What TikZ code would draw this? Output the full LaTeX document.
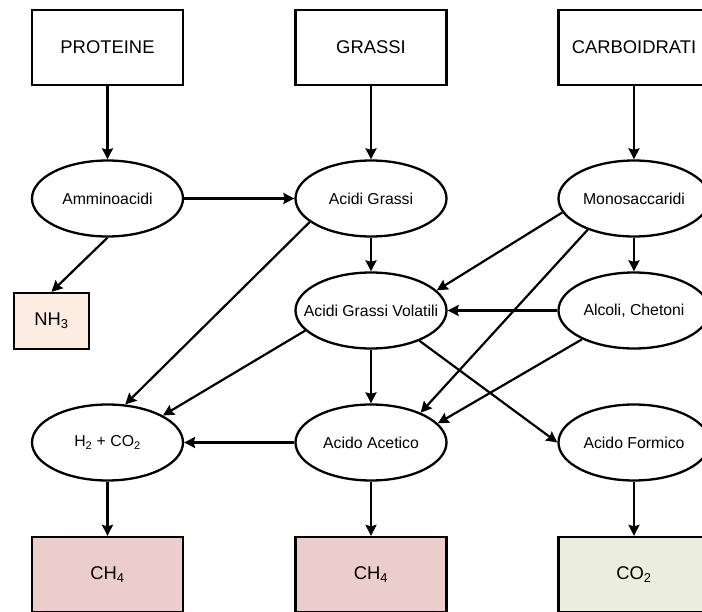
\documentclass[tikz,border=0pt]{standalone}
\usepackage{fontspec}
\setmainfont{Liberation Sans}
\usetikzlibrary{shapes.geometric,arrows.meta}
\definecolor{pinkch}{RGB}{235,205,203}
\definecolor{greenco}{RGB}{235,238,222}
\definecolor{peachnh}{RGB}{252,236,225}
\begin{document}
\begin{tikzpicture}[x=1pt,y=-1pt,
    box/.style={draw, line width=2.3pt, minimum width=151pt, minimum height=75pt,
        inner sep=0pt, font=\fontsize{18.4}{20}\selectfont},
    ell/.style={draw, ellipse, line width=2.3pt, minimum width=151pt, minimum height=76pt,
        inner xsep=-20pt, inner ysep=0pt, font=\fontsize{15.8}{18}\selectfont},
    arr/.style={line width=2.2pt, -{Stealth[length=11pt,width=11pt,inset=1.5pt]}}]
\useasboundingbox (0,0) rectangle (702,612);
\node[box] (pro) at (107.5,47.5) {PROTEINE};
\node[box] (gra) at (371,47.5) {GRASSI};
\node[box] (car) at (634,47.5) {CARBOIDRATI};
\node[ell] (ami) at (107.5,198.5) {Amminoacidi};
\node[ell] (ag) at (371,198.5) {Acidi Grassi};
\node[ell] (mono) at (634,198.5) {Monosaccaridi};
\node[box, fill=peachnh, minimum width=75pt, minimum height=56pt] (nh3) at (51.5,321) {NH\textsubscript{3}};
\node[ell] (agv) at (371,310.5) {Acidi Grassi Volatili};
\node[ell] (alc) at (634,310.5) {Alcoli, Chetoni};
\node[ell] (h2) at (107.5,442.5) {H\textsubscript{2} + CO\textsubscript{2}};
\node[ell] (aa) at (371,442.5) {Acido Acetico};
\node[ell] (af) at (634,442.5) {Acido Formico};
\node[box, fill=pinkch] (ch4a) at (107.5,574.5) {CH\textsubscript{4}};
\node[box, fill=pinkch] (ch4b) at (371,574.5) {CH\textsubscript{4}};
\node[box, fill=greenco] (co2) at (634,574.5) {CO\textsubscript{2}};
\draw[arr] (pro) -- (ami);
\draw[arr] (gra) -- (ag);
\draw[arr] (car) -- (mono);
\draw[arr] (ami) -- (ag);
\draw[arr] (ami.south) -- (nh3.north);
\draw[arr] (ag.201) -- (h2.65);
\draw[arr] (ag) -- (agv);
\draw[arr] (mono.191) -- (agv.17);
\draw[arr] (mono.214) -- (aa.31);
\draw[arr] (mono) -- (alc);
\draw[arr] (alc) -- (agv);
\draw[arr] (alc.209) -- (aa.16);
\draw[arr] (agv.197) -- (h2.26);
\draw[arr] (agv) -- (aa);
\draw[arr] (agv.-32) -- (af.west);
\draw[arr] (aa) -- (h2);
\draw[arr] (h2) -- (ch4a);
\draw[arr] (aa) -- (ch4b);
\draw[arr] (af) -- (co2);
\end{tikzpicture}
\end{document}
